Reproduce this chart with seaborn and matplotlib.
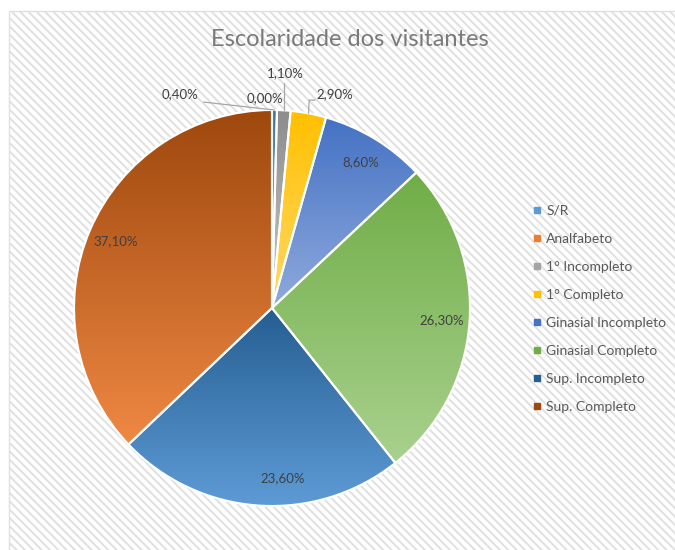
import numpy as np
import matplotlib
matplotlib.use("Agg")
import matplotlib.pyplot as plt
import matplotlib.colors as mcolors
from matplotlib.patches import Rectangle
from matplotlib.lines import Line2D
import seaborn as sns

# data
categorias = ["S/R", "Analfabeto", "1° Incompleto", "1° Completo",
              "Ginasial Incompleto", "Ginasial Completo",
              "Sup. Incompleto", "Sup. Completo"]
percentuais = [0.40, 0.00, 1.10, 2.90, 8.60, 26.30, 23.60, 37.10]

# colours: legend colour, gradient top, gradient bottom
cores = ["#5B9BD5", "#ED7D31", "#A5A5A5", "#FFC000",
         "#4472C4", "#70AD47", "#255E91", "#9E480E"]
topo = ["#41719C", "#C55A11", "#8C8C8C", "#FFC000",
        "#4472C4", "#70AD47", "#255E91", "#9E480E"]
base = ["#9DC3E6", "#F4B183", "#C9C9C9", "#FFD966",
        "#8FAADC", "#A9D18E", "#5E9BD6", "#EF8843"]

sns.set_theme(style="white")
plt.rcParams["font.family"] = ["Lato", "DejaVu Sans"]
plt.rcParams["hatch.linewidth"] = 1.4

fig = plt.figure(figsize=(6.75, 5.5), dpi=100)
fig.patch.set_facecolor("white")

# hatched chart area background
fundo = Rectangle((9 / 675, -0.05), 1.2, (550 - 11) / 550 + 0.05,
                  transform=fig.transFigure, facecolor="white",
                  edgecolor="#E0E0E0", hatch="\\" * 4, linewidth=1.0,
                  zorder=-10)
fig.patches.append(fundo)

fig.text(350 / 675, 1 - 40 / 550, "Escolaridade dos visitantes",
         ha="center", va="center", fontsize=17, color="#7A7A7A")

# pie axes: centre (272, 308) px, radius 198 px
R = 198
ax = fig.add_axes([(272 - R) / 675, (550 - 308 - R) / 550, 2 * R / 675, 2 * R / 550])
ax.set_facecolor("none")
wedges, _ = ax.pie(percentuais, startangle=90, counterclock=False,
                   colors=cores, radius=1, frame=False,
                   wedgeprops=dict(edgecolor="white", linewidth=1.5))
ax.axis("off")

# gradient fill for each slice
for w, c1, c2, p in zip(wedges, topo, base, percentuais):
    if p <= 0:
        continue
    ext = w.get_path().get_extents()
    t = np.linspace(0, 1, 256)[:, None]
    a = np.array(mcolors.to_rgb(c1))
    b = np.array(mcolors.to_rgb(c2))
    grad = (a * (1 - t) + b * t)[:, None, :]
    im = ax.imshow(grad, extent=[ext.x0, ext.x1, ext.y0, ext.y1],
                   origin="upper", aspect="auto", zorder=1, interpolation="bilinear")
    im.set_clip_path(w)
    w.set_facecolor("none")
    w.set_zorder(2)
ax.set_xlim(-1, 1)
ax.set_ylim(-1, 1)

def rotulo(v):
    return f"{v:.2f}".replace(".", ",") + "%"

# labels: inside for big slices, outside with leader lines for small ones
fora = {0: (-0.465, 1.08), 1: (-0.035, 1.06), 2: (0.066, 1.185), 3: (0.318, 1.08)}
ajuste = {6: 7.5}
for i, (w, p) in enumerate(zip(wedges, percentuais)):
    meio = np.deg2rad((w.theta1 + w.theta2) / 2 + ajuste.get(i, 0))
    if i in fora:
        lx, ly = fora[i]
        ax.text(lx, ly, rotulo(p), ha="center", va="center",
                fontsize=9.5, color="#404040", zorder=5)
        if i == 1:
            continue
        ex, ey = np.cos(meio), np.sin(meio)
        if i == 0:
            xs, ys = [lx + 0.12, ex], [ly - 0.04, ey]
        elif i == 2:
            xs, ys = [ex, ex], [ly - 0.05, ey]
        else:
            xs, ys = [lx - 0.1, lx - 0.13, ex], [ly - 0.03, ly - 0.03, ey]
        ax.add_line(Line2D(xs, ys, color="#A6A6A6", linewidth=0.9, zorder=4))
    else:
        ax.text(0.86 * np.cos(meio), 0.86 * np.sin(meio), rotulo(p),
                ha="center", va="center", fontsize=9.5, color="#404040", zorder=5)
for t in ax.texts + ax.lines:
    t.set_clip_on(False)

# legend
alcas = [Line2D([0], [0], marker="s", linestyle="none", markersize=5,
                markerfacecolor=c, markeredgecolor=c) for c in cores]
leg = fig.legend(alcas, categorias, loc="upper left",
                 bbox_to_anchor=(524 / 675, 1 - 198 / 550),
                 frameon=False, fontsize=10, labelspacing=1.15,
                 handlelength=0.8, handletextpad=0.3, borderpad=0)
for txt in leg.get_texts():
    txt.set_color("#595959")

fig.savefig("out.png", dpi=100)
